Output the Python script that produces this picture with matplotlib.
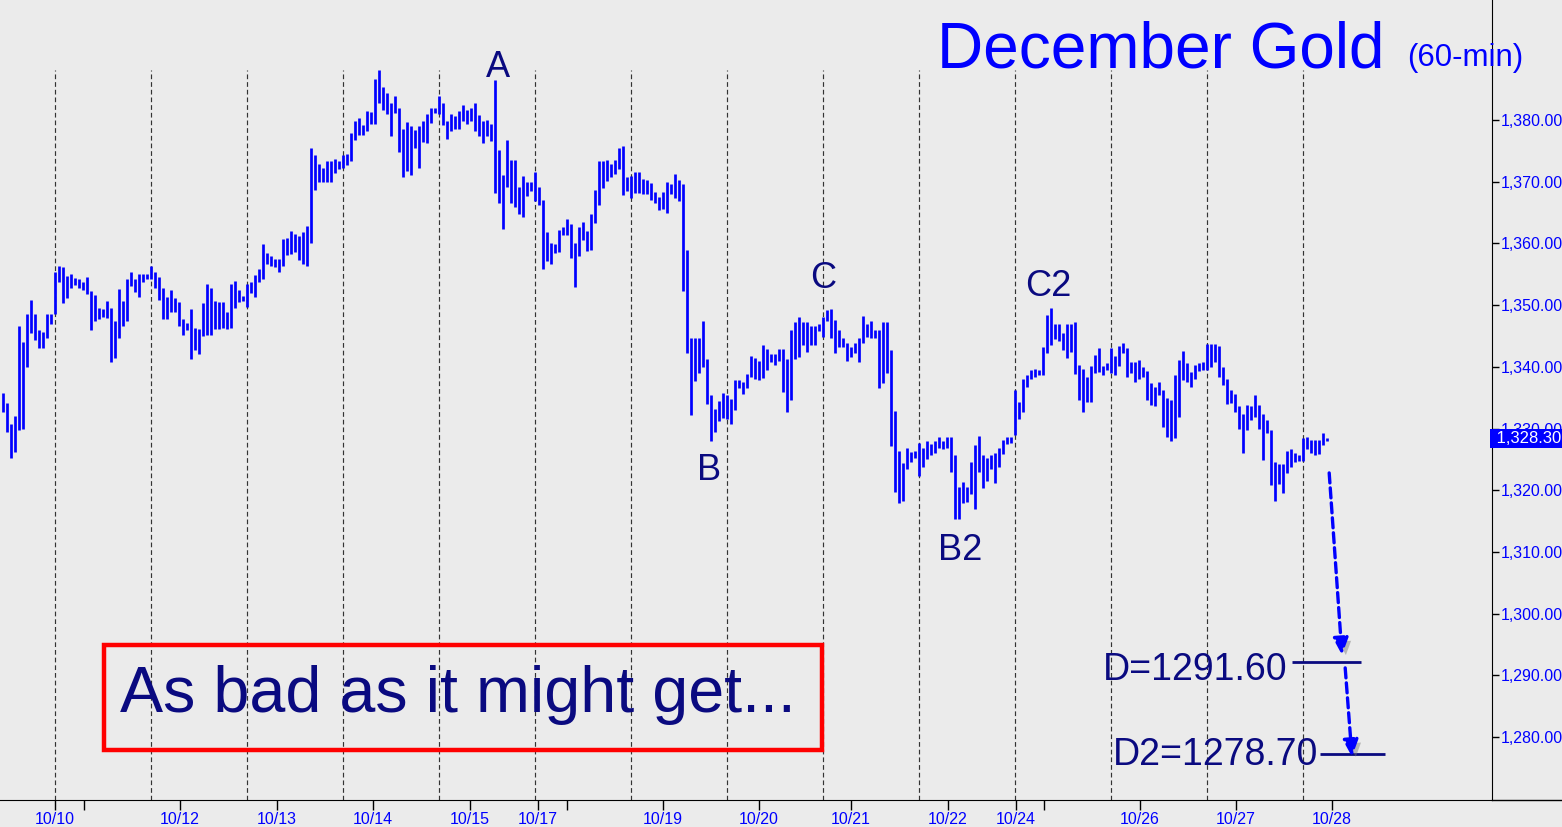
import matplotlib
matplotlib.use('Agg')
import matplotlib.pyplot as plt
import matplotlib.patheffects as pe
from matplotlib.patches import Rectangle
from matplotlib.lines import Line2D
from matplotlib.ticker import FuncFormatter

plt.rcParams['font.family'] = ['Liberation Sans', 'DejaVu Sans']

# Hourly bars (high / low), oldest first
highs = [
    1335.7, 1334.2, 1330.7, 1332.0, 1346.6, 1344.1, 1348.6, 1350.8, 1348.5, 1345.9,
    1345.7, 1348.6, 1348.6, 1355.4, 1356.3, 1356.1, 1354.7, 1355.0, 1354.4, 1354.3,
    1353.7, 1354.6, 1352.3, 1351.6, 1349.5, 1349.4, 1350.7, 1349.5, 1347.4, 1352.6,
    1350.7, 1354.3, 1355.4, 1354.3, 1355.0, 1355.0, 1355.0, 1356.3, 1355.4, 1354.5,
    1352.7, 1351.3, 1352.4, 1351.1, 1350.5, 1347.8, 1347.1, 1349.4, 1346.3, 1346.2,
    1350.4, 1353.4, 1352.7, 1350.7, 1350.5, 1350.5, 1348.9, 1353.4, 1353.9, 1352.4,
    1351.5, 1353.4, 1353.8, 1354.8, 1355.8, 1359.9, 1358.4, 1357.9, 1357.4, 1357.4,
    1360.7, 1360.8, 1362.0, 1361.5, 1361.2, 1361.9, 1362.8, 1375.5, 1374.3, 1372.9,
    1372.3, 1373.3, 1373.3, 1373.6, 1373.4, 1374.4, 1374.5, 1377.9, 1379.8, 1380.4,
    1379.2, 1381.4, 1381.3, 1386.7, 1388.1, 1385.3, 1384.4, 1382.8, 1383.9, 1381.9,
    1378.5, 1379.6, 1379.0, 1378.4, 1379.0, 1379.8, 1381.0, 1382.0, 1382.0, 1383.9,
    1382.7, 1379.8, 1381.0, 1380.7, 1381.5, 1382.4, 1381.6, 1381.9, 1382.7, 1380.8,
    1379.9, 1380.0, 1379.3, 1386.5, 1375.1, 1371.1, 1376.8, 1373.5, 1373.5, 1369.1,
    1370.9, 1369.9, 1369.9, 1371.6, 1369.1, 1367.1, 1361.8, 1360.1, 1359.9, 1362.2,
    1362.7, 1364.0, 1363.1, 1360.0, 1362.7, 1363.4, 1362.0, 1364.8, 1368.7, 1373.4,
    1373.4, 1373.5, 1372.8, 1373.5, 1375.5, 1375.8, 1370.7, 1370.9, 1371.6, 1371.6,
    1370.4, 1370.2, 1369.8, 1368.3, 1367.5, 1368.3, 1369.9, 1369.6, 1371.2, 1370.3,
    1369.7, 1358.9, 1344.7, 1344.7, 1344.7, 1347.4, 1341.3, 1335.4, 1333.2, 1334.4,
    1335.7, 1335.5, 1334.8, 1337.9, 1337.9, 1337.5, 1338.8, 1341.8, 1341.5, 1340.9,
    1343.5, 1342.9, 1342.0, 1342.1, 1342.9, 1342.9, 1341.2, 1345.9, 1347.3, 1348.1,
    1347.3, 1347.3, 1346.6, 1346.6, 1347.0, 1348.0, 1349.2, 1349.4, 1347.6, 1346.0,
    1344.6, 1343.9, 1343.2, 1343.9, 1344.7, 1348.3, 1347.0, 1347.5, 1345.9, 1345.9,
    1347.3, 1347.2, 1342.7, 1332.8, 1326.3, 1324.4, 1326.8, 1326.2, 1326.3, 1327.7,
    1326.8, 1328.0, 1327.5, 1327.9, 1328.7, 1328.0, 1328.6, 1328.6, 1325.7, 1320.5,
    1321.4, 1320.5, 1324.6, 1327.3, 1328.8, 1325.7, 1325.3, 1325.7, 1326.0, 1326.9,
    1328.2, 1328.7, 1328.7, 1336.3, 1334.3, 1338.1, 1338.7, 1339.5, 1339.6, 1339.5,
    1343.2, 1348.4, 1349.5, 1346.9, 1346.9, 1345.5, 1346.9, 1346.9, 1347.2, 1340.3,
    1339.6, 1338.3, 1340.1, 1341.9, 1343.0, 1340.2, 1340.6, 1343.0, 1341.7, 1343.4,
    1343.8, 1343.0, 1340.7, 1340.7, 1341.1, 1339.9, 1339.4, 1337.4, 1336.7, 1337.6,
    1336.3, 1335.0, 1334.7, 1338.7, 1341.1, 1342.6, 1340.6, 1339.2, 1340.3, 1340.6,
    1340.7, 1343.7, 1343.7, 1343.7, 1343.4, 1340.0, 1338.0, 1336.3, 1335.6, 1333.6,
    1332.4, 1333.8, 1333.6, 1335.4, 1333.8, 1332.4, 1331.4, 1329.7, 1324.5, 1324.2,
    1324.2, 1326.4, 1326.6, 1326.1, 1325.7, 1328.4, 1328.6, 1328.1, 1328.1, 1328.2,
    1329.2, 1328.4,
]
lows = [
    1332.7, 1329.4, 1325.3, 1326.2, 1329.8, 1330.0, 1340.0, 1345.4, 1344.3, 1343.0,
    1343.1, 1344.6, 1347.0, 1348.6, 1353.7, 1350.4, 1351.1, 1352.7, 1353.2, 1352.7,
    1352.4, 1351.8, 1346.0, 1347.4, 1347.8, 1348.1, 1347.9, 1340.8, 1341.5, 1344.6,
    1346.6, 1347.4, 1353.1, 1352.1, 1351.3, 1353.8, 1354.3, 1354.3, 1352.7, 1350.9,
    1347.7, 1347.8, 1348.9, 1348.9, 1346.6, 1345.2, 1345.9, 1341.2, 1342.7, 1342.1,
    1345.0, 1345.1, 1345.1, 1346.2, 1346.2, 1346.3, 1346.1, 1346.3, 1349.6, 1350.5,
    1350.7, 1349.7, 1351.9, 1351.3, 1353.8, 1354.2, 1356.6, 1356.4, 1356.2, 1355.4,
    1356.4, 1358.2, 1358.3, 1358.6, 1357.3, 1356.7, 1356.4, 1360.0, 1368.7, 1370.0,
    1370.0, 1370.0, 1370.0, 1371.4, 1372.1, 1372.3, 1372.7, 1373.4, 1376.8, 1377.5,
    1377.5, 1378.2, 1379.4, 1379.4, 1382.8, 1381.7, 1380.9, 1377.4, 1381.1, 1374.8,
    1370.8, 1371.7, 1371.1, 1375.4, 1372.3, 1376.5, 1376.3, 1379.5, 1381.1, 1380.9,
    1379.2, 1376.9, 1378.2, 1378.5, 1378.5, 1379.9, 1379.4, 1379.9, 1378.2, 1377.4,
    1376.2, 1377.4, 1376.6, 1368.1, 1366.5, 1362.4, 1369.2, 1366.6, 1365.9, 1364.7,
    1364.2, 1367.7, 1368.5, 1366.9, 1366.3, 1355.9, 1357.2, 1356.7, 1358.5, 1358.6,
    1361.3, 1361.3, 1357.7, 1353.0, 1357.9, 1360.5, 1358.8, 1358.9, 1363.3, 1366.3,
    1368.9, 1370.1, 1370.8, 1371.3, 1372.0, 1367.9, 1368.5, 1367.4, 1368.2, 1368.1,
    1368.0, 1368.0, 1367.0, 1366.6, 1365.4, 1365.6, 1365.0, 1368.0, 1367.3, 1366.9,
    1352.3, 1342.3, 1332.2, 1337.7, 1339.0, 1339.9, 1334.0, 1328.0, 1329.4, 1331.2,
    1331.7, 1331.6, 1330.7, 1333.0, 1336.5, 1335.6, 1336.5, 1338.3, 1338.1, 1337.9,
    1338.2, 1339.5, 1340.8, 1340.3, 1340.9, 1335.9, 1332.7, 1334.7, 1341.3, 1341.6,
    1343.5, 1342.4, 1343.6, 1343.6, 1345.8, 1344.8, 1347.5, 1344.7, 1342.2, 1343.2,
    1343.2, 1340.9, 1341.6, 1342.2, 1340.8, 1343.9, 1344.8, 1344.7, 1344.6, 1336.5,
    1337.4, 1339.0, 1327.2, 1319.7, 1318.0, 1318.3, 1323.5, 1324.6, 1325.3, 1322.3,
    1323.7, 1325.0, 1325.7, 1326.0, 1326.8, 1326.6, 1326.8, 1323.0, 1315.3, 1315.4,
    1317.9, 1318.1, 1319.4, 1316.9, 1323.0, 1320.3, 1321.5, 1323.5, 1321.1, 1323.7,
    1325.9, 1327.5, 1327.6, 1328.9, 1331.5, 1332.7, 1336.8, 1338.0, 1338.3, 1338.7,
    1338.7, 1342.3, 1343.5, 1344.5, 1344.2, 1342.8, 1341.4, 1342.4, 1338.9, 1334.7,
    1332.7, 1334.3, 1334.3, 1339.0, 1339.2, 1338.7, 1339.5, 1339.0, 1338.6, 1340.1,
    1342.2, 1338.3, 1339.0, 1337.6, 1338.0, 1338.3, 1334.7, 1333.8, 1333.6, 1335.4,
    1330.3, 1328.6, 1327.9, 1328.4, 1331.8, 1337.9, 1337.6, 1336.8, 1338.1, 1339.4,
    1339.5, 1339.5, 1340.0, 1340.7, 1338.3, 1337.0, 1334.0, 1334.1, 1332.7, 1330.0,
    1326.0, 1329.7, 1331.3, 1331.8, 1330.0, 1324.9, 1329.2, 1320.8, 1318.3, 1321.0,
    1319.5, 1322.8, 1323.8, 1324.5, 1324.8, 1324.8, 1326.6, 1326.1, 1325.7, 1325.9,
    1327.3, 1327.9,
]
last_price = 1328.30

# session separators and date ticks, in bar units
session_breaks = [13.15, 37.15, 61.15, 85.15, 109.15, 133.15, 157.15,
                  181.15, 205.15, 229.15, 253.15, 277.15, 301.15, 325.15]
date_labels = ['10/10', '10/12', '10/13', '10/14', '10/15', '10/17', '10/19',
               '10/20', '10/21', '10/22', '10/24', '10/26', '10/27', '10/28']
date_pos = [13.1, 44.3, 68.6, 92.6, 116.8, 133.8, 165.1,
            189.1, 212.1, 236.3, 253.3, 284.3, 308.3, 332.3]
week_ticks = [20.3, 141.1, 260.3]

# wave labels: (text, bar, price)
wave_names = ['A', 'B', 'C', 'B2', 'C2']
wave_bars = [123.8, 176.6, 205.1, 239.3, 261.3]
wave_prices = [1387.0, 1321.7, 1352.8, 1308.7, 1351.5]

# targets
target_texts = ['D=1291.60', 'D2=1278.70']
target_levels = [1292.2, 1277.2]
target_line_x = [(322.3, 339.6), (329.3, 345.6)]
target_text_x = [275.1, 277.6]
target_text_y = [1289.2, 1275.5]
arrow_from = [(331.6, 1322.8), (335.6, 1291.2)]
arrow_to = [(334.8, 1293.3), (337.3, 1276.8)]

BG = '#ebebeb'
BLUE = '#0000ff'
NAVY = '#0a0a80'

fig = plt.figure(figsize=(15.62, 8.27), dpi=100)
fig.patch.set_facecolor(BG)
ax = fig.add_axes([0, 27 / 827, 1492 / 1562, 800 / 827])
ax.set_facecolor(BG)

x = list(range(len(highs)))
ax.vlines(x, lows, highs, color=BLUE, linewidth=1.95, zorder=3)

for b in session_breaks:
    ax.axvline(b, ymin=0, ymax=0.9125, color='#333333', lw=0.85,
               linestyle=(0, (4, 2.5)), zorder=1)

ax.set_xlim(-0.675, 372.3)
ax.set_ylim(1269.79, 1399.45)

# axes / ticks
for s in ['left', 'top']:
    ax.spines[s].set_visible(False)
ax.spines['right'].set_color('black')
ax.spines['bottom'].set_color('black')
ax.yaxis.tick_right()
ax.set_yticks(list(range(1280, 1390, 10)))
ax.yaxis.set_major_formatter(FuncFormatter(lambda v, p: f'{v:,.2f}'))
ax.tick_params(axis='y', direction='out', length=5, width=1, pad=1,
               labelsize=11.5, labelcolor=BLUE)
ax.set_xticks(date_pos + week_ticks)
ax.set_xticklabels(date_labels + [''] * len(week_ticks))
ax.tick_params(axis='x', direction='out', length=7, width=1, pad=2,
               labelsize=11.5, labelcolor=BLUE)
fig.add_artist(Line2D([1492 / 1562, 1], [27 / 827, 27 / 827],
                      color='black', lw=1, transform=fig.transFigure))

# last price box
ax.text(1.0, last_price, f' {last_price:,.2f}', transform=ax.get_yaxis_transform(),
        ha='left', va='center', fontsize=12, color='white', zorder=10, clip_on=False,
        bbox=dict(boxstyle='square,pad=0.12', fc=BLUE, ec='none'))

# titles
fig.text(937 / 1562, 1 - 68 / 827, 'December Gold', fontsize=46, color=BLUE,
         va='baseline', ha='left')
fig.text(1407 / 1562, 1 - 66 / 827, '(60-min)', fontsize=22.5, color=BLUE,
         va='baseline', ha='left')

for name, bx, by in zip(wave_names, wave_bars, wave_prices):
    ax.text(bx, by, name, fontsize=26, color=NAVY, ha='center', va='baseline', zorder=6)

# comment box
ax.add_patch(Rectangle((104 / 1492, 50 / 800), 718 / 1492, 105 / 800,
                       transform=ax.transAxes, fill=False, ec='#ff0000', lw=3.2, zorder=6))
ax.text(120 / 1492, 88 / 800, 'As bad as it might get...', transform=ax.transAxes,
        fontsize=46.5, color=NAVY, ha='left', va='baseline', zorder=6)

# targets
for txt, lvl, (x0, x1), tx, ty in zip(target_texts, target_levels, target_line_x,
                                      target_text_x, target_text_y):
    ax.hlines(lvl, x0, x1, color=NAVY, lw=2, zorder=5)
    ax.text(tx, ty, txt, fontsize=27, color=NAVY, ha='left', va='baseline', zorder=6)

for p0, p1 in zip(arrow_from, arrow_to):
    ann = ax.annotate('', xy=p1, xytext=p0,
                      arrowprops=dict(arrowstyle='-|>,head_length=1.0,head_width=0.45',
                                      color=BLUE, lw=2.4, linestyle=(0, (3, 1.5)),
                                      shrinkA=0, shrinkB=0, mutation_scale=10),
                      zorder=7)
    ann.arrow_patch.set_path_effects([
        pe.SimplePatchShadow(offset=(3, -3), shadow_rgbFace='#777777', alpha=0.45),
        pe.Normal()])

fig.savefig('out.png', dpi=100, facecolor=BG)
